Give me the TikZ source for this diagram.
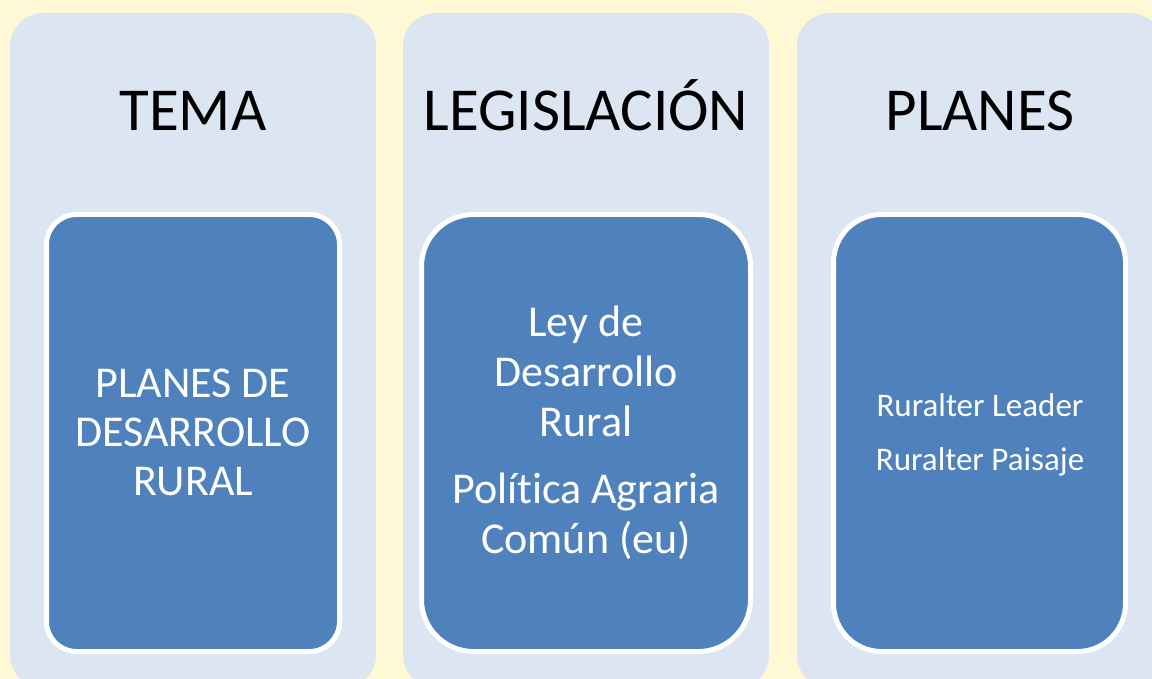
\documentclass[tikz,border=0pt]{standalone}
\usepackage{fontspec}
\setmainfont{Carlito}[Ligatures={NoCommon}]
\definecolor{bgyellow}{HTML}{FFF8D4}
\definecolor{panelblue}{HTML}{DCE6F2}
\definecolor{boxblue}{HTML}{4F81BD}
\tikzset{
  panel/.style={fill=panelblue, draw=none},
  inbox/.style={fill=boxblue, draw=white, line width=5pt},
  head/.style={anchor=base, text=black, inner sep=0pt, font=\fontsize{61}{73}\selectfont},
  bigtxt/.style={anchor=base, text=white, inner sep=0pt, font=\fontsize{44}{50}\selectfont},
  smalltxt/.style={anchor=base, text=white, inner sep=0pt, font=\fontsize{33}{40}\selectfont},
}
\begin{document}
\begin{tikzpicture}[x=1pt,y=-1pt]
\useasboundingbox (0,0) rectangle (1152,679);
\fill[bgyellow] (0,0) rectangle (1152,679);
\begin{scope}
\clip (0,0) rectangle (1152,679);
% panels
\path[panel, rounded corners=33pt] (10,13) rectangle (376,688);
\path[panel, rounded corners=33pt] (403,13) rectangle (769,688);
\path[panel, rounded corners=33pt] (797,13) rectangle (1163,688);
\end{scope}
% inner boxes
\path[inbox, rounded corners=30pt] (46.5,214.5) rectangle (339.5,651.5);
\path[inbox, rounded corners=52pt] (421.5,214.5) rectangle (750.5,651.5);
\path[inbox, rounded corners=48pt] (833.5,214.5) rectangle (1125.5,651.5);
% headings
\node[head] (h1) at (193,131) {TEMA};
\node[head] (h2) at (586,131) {LEGISLACIÓN};
\node[head] (h3) at (980,131) {PLANES};
% box 1 text
\node[bigtxt] (t11) at (193,397.7) {PLANES DE};
\node[bigtxt] (t12) at (193,446.7) {DESARROLLO};
\node[bigtxt] (t13) at (193,495.7) {RURAL};
% box 2 text
\node[bigtxt] (t21) at (586,336.7) {Ley de};
\node[bigtxt] (t22) at (586,386.7) {Desarrollo};
\node[bigtxt] (t23) at (586,436.7) {Rural};
\node[bigtxt] (t24) at (586,503.3) {Política Agraria};
\node[bigtxt] (t25) at (586,553.3) {Común (eu)};
% box 3 text
\node[smalltxt] (t31) at (980,416.7) {Ruralter Leader};
\node[smalltxt] (t32) at (980,470) {Ruralter Paisaje};
\end{tikzpicture}
\end{document}
